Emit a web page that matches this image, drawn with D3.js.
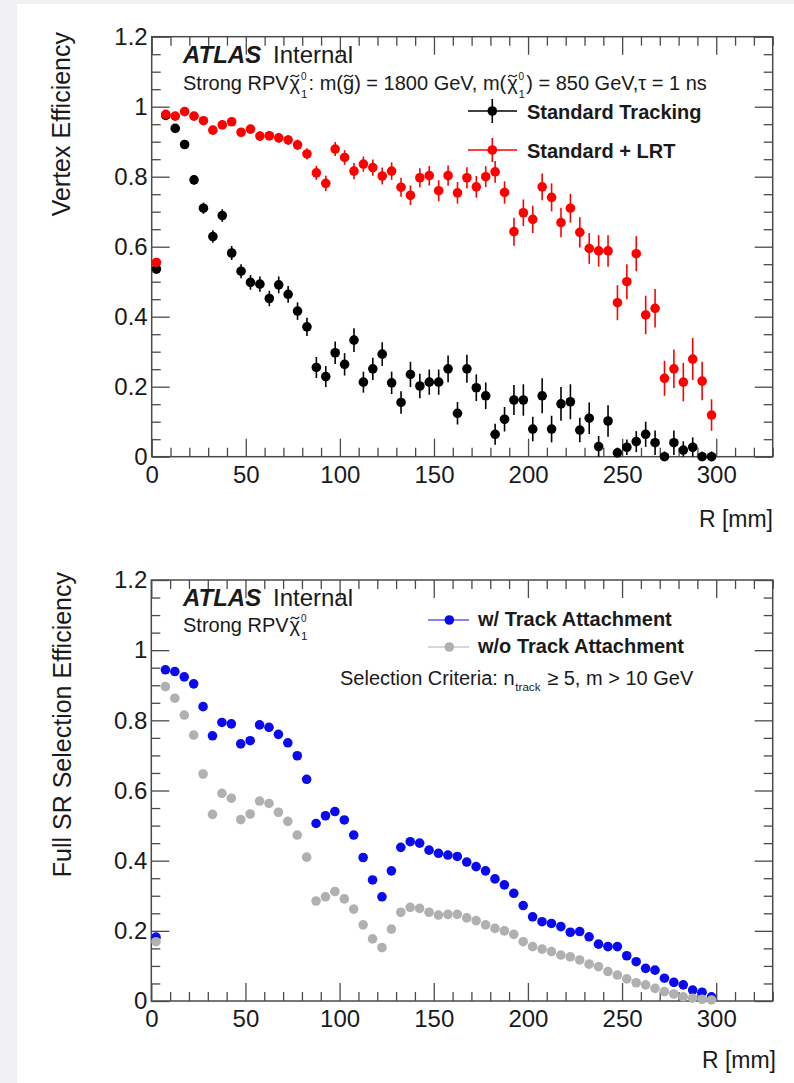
<!DOCTYPE html>
<html><head><meta charset="utf-8">
<script src="https://cdn.jsdelivr.net/npm/d3@7"></script>
<style>
html,body{margin:0;padding:0;background:#f0f0f2;}
svg{display:block;}
text{font-family:"Liberation Sans",Arial,Helvetica,sans-serif;fill:#1a1a1a;}
</style></head><body>
<svg id="c" width="794" height="1083"></svg>
<script>
// ---------------- data ----------------
const binCenters = [2.5,7.5,12.5,17.5,22.5,27.5,32.5,37.5,42.5,47.5,52.5,57.5,62.5,67.5,72.5,77.5,82.5,87.5,92.5,97.5,
  102.5,107.5,112.5,117.5,122.5,127.5,132.5,137.5,142.5,147.5,152.5,157.5,162.5,167.5,172.5,177.5,182.5,187.5,192.5,197.5,
  202.5,207.5,212.5,217.5,222.5,227.5,232.5,237.5,242.5,247.5,252.5,257.5,262.5,267.5,272.5,277.5,282.5,287.5,292.5,297.5];

const stdTracking = [0.536,0.975,0.938,0.892,0.791,0.710,0.629,0.689,0.582,0.530,0.498,0.493,0.452,0.491,0.464,0.416,0.371,0.255,0.229,0.297,
  0.264,0.333,0.213,0.251,0.293,0.211,0.155,0.235,0.202,0.213,0.213,0.251,0.124,0.251,0.197,0.174,0.064,0.107,0.162,0.162,
  0.079,0.174,0.079,0.151,0.157,0.076,0.110,0.029,0.102,0.011,0.027,0.043,0.064,0.040,0.000,0.040,0.019,0.027,0.000,0.000];
const stdTrackingErr = [0.012,0.008,0.010,0.012,0.014,0.016,0.018,0.018,0.020,0.020,0.021,0.022,0.022,0.024,0.024,0.025,0.026,0.030,0.030,0.032,
  0.032,0.034,0.030,0.032,0.034,0.032,0.032,0.036,0.035,0.036,0.036,0.038,0.032,0.040,0.038,0.038,0.030,0.035,0.043,0.045,
  0.035,0.050,0.038,0.048,0.050,0.035,0.045,0.030,0.045,0.015,0.022,0.030,0.036,0.035,0.015,0.035,0.025,0.028,0.015,0.015];

const stdLRT = [0.555,0.978,0.973,0.986,0.973,0.960,0.933,0.948,0.957,0.927,0.936,0.916,0.917,0.911,0.905,0.891,0.865,0.811,0.781,0.879,
  0.855,0.816,0.836,0.826,0.802,0.816,0.770,0.747,0.797,0.803,0.760,0.803,0.754,0.797,0.771,0.800,0.814,0.755,0.643,0.697,
  0.678,0.771,0.741,0.669,0.710,0.641,0.595,0.588,0.588,0.440,0.500,0.580,0.405,0.424,0.224,0.251,0.213,0.279,0.216,0.119];
const stdLRTErr = [0.012,0.008,0.008,0.008,0.009,0.010,0.010,0.010,0.011,0.012,0.012,0.013,0.013,0.014,0.014,0.015,0.016,0.020,0.022,0.020,
  0.021,0.023,0.022,0.023,0.024,0.025,0.027,0.028,0.027,0.028,0.030,0.029,0.031,0.030,0.031,0.030,0.031,0.032,0.040,0.038,
  0.039,0.038,0.040,0.042,0.041,0.043,0.044,0.045,0.045,0.050,0.050,0.050,0.055,0.055,0.050,0.055,0.055,0.060,0.055,0.045];

const withAttach = [0.182,0.944,0.939,0.924,0.904,0.839,0.756,0.794,0.790,0.733,0.742,0.787,0.780,0.760,0.736,0.699,0.632,0.506,0.528,0.540,
  0.516,0.473,0.409,0.345,0.297,0.371,0.438,0.454,0.450,0.430,0.421,0.416,0.412,0.396,0.383,0.371,0.348,0.331,0.307,0.272,
  0.240,0.226,0.221,0.212,0.196,0.198,0.183,0.162,0.155,0.155,0.129,0.112,0.093,0.088,0.065,0.053,0.046,0.031,0.025,0.012];
const withoutAttach = [0.169,0.896,0.863,0.815,0.758,0.647,0.532,0.592,0.578,0.517,0.533,0.570,0.563,0.538,0.512,0.473,0.410,0.285,0.297,0.312,
  0.291,0.262,0.217,0.177,0.152,0.205,0.253,0.267,0.264,0.253,0.245,0.247,0.247,0.237,0.229,0.217,0.207,0.200,0.190,0.169,
  0.155,0.148,0.141,0.131,0.126,0.117,0.105,0.098,0.084,0.074,0.063,0.052,0.046,0.036,0.027,0.020,0.012,0.008,0.005,0.003];

const xTickValues = [0,50,100,150,200,250,300];
const xTickLabels = ["0","50","100","150","200","250","300"];
const yTickValues = [0,0.2,0.4,0.6,0.8,1,1.2];
const yTickLabels = ["0","0.2","0.4","0.6","0.8","1","1.2"];
const xDomain = [0,330];
const yDomain = [0,1.2];

// ---------------- drawing ----------------
const svg = d3.select("#c");
svg.append("rect").attr("x",17).attr("y",4).attr("width",794-17).attr("height",1083-4).attr("fill","#ffffff");

const FRAME = "#4a4a4a";
const xMinor = d3.range(0,331,10).filter(v => v % 50 !== 0);
const yMinor = d3.range(0,1.2001,0.05).map(v=>+v.toFixed(2)).filter(v => Math.abs(v/0.2 - Math.round(v/0.2)) > 1e-6);

function makePanel(box){
  const x = d3.scaleLinear().domain(xDomain).range([box.x0, box.x1]);
  const y = d3.scaleLinear().domain(yDomain).range([box.y1, box.y0]);
  const g = svg.append("g");
  const styleAxis = sel => {
    sel.select(".domain").remove();
    sel.selectAll("line").attr("stroke",FRAME).attr("stroke-width",1.3);
    sel.selectAll("text").style("font-size","24px").attr("fill","#1a1a1a")
      .style("font-family",'"Liberation Sans",Arial,Helvetica,sans-serif');
  };
  g.append("g").attr("transform",`translate(0,${box.y1})`)
    .call(d3.axisBottom(x).tickValues(xTickValues).tickFormat((d,i)=>xTickLabels[i]).tickSize(-18).tickPadding(9)).call(styleAxis);
  g.append("g").attr("transform",`translate(0,${box.y1})`)
    .call(d3.axisBottom(x).tickValues(xMinor).tickFormat("").tickSize(-9)).call(styleAxis);
  g.append("g").attr("transform",`translate(0,${box.y0})`)
    .call(d3.axisTop(x).tickValues(xTickValues).tickFormat("").tickSize(-18)).call(styleAxis);
  g.append("g").attr("transform",`translate(0,${box.y0})`)
    .call(d3.axisTop(x).tickValues(xMinor).tickFormat("").tickSize(-9)).call(styleAxis);
  g.append("g").attr("transform",`translate(${box.x0},0)`)
    .call(d3.axisLeft(y).tickValues(yTickValues).tickFormat((d,i)=>yTickLabels[i]).tickSize(-18).tickPadding(4)).call(styleAxis);
  g.append("g").attr("transform",`translate(${box.x0},0)`)
    .call(d3.axisLeft(y).tickValues(yMinor).tickFormat("").tickSize(-9)).call(styleAxis);
  g.append("g").attr("transform",`translate(${box.x1},0)`)
    .call(d3.axisRight(y).tickValues(yTickValues).tickFormat("").tickSize(-18)).call(styleAxis);
  g.append("g").attr("transform",`translate(${box.x1},0)`)
    .call(d3.axisRight(y).tickValues(yMinor).tickFormat("").tickSize(-9)).call(styleAxis);
  g.append("rect").attr("x",box.x0).attr("y",box.y0).attr("width",box.x1-box.x0).attr("height",box.y1-box.y0)
    .attr("fill","none").attr("stroke",FRAME).attr("stroke-width",1.5);
  return {x,y,g};
}

function series(p, vals, errs, color, r){
  const data = binCenters.map((c,i)=>({c, v:vals[i], e: errs ? errs[i] : 0}));
  const gg = p.g.append("g");
  if (errs){
    gg.selectAll("line.err").data(data).join("line")
      .attr("x1",d=>p.x(d.c)).attr("x2",d=>p.x(d.c))
      .attr("y1",d=>p.y(Math.max(0,d.v-d.e))).attr("y2",d=>p.y(Math.min(1.2,d.v+d.e)))
      .attr("stroke",color).attr("stroke-width",1.6);
  }
  gg.selectAll("circle").data(data).join("circle")
    .attr("cx",d=>p.x(d.c)).attr("cy",d=>p.y(d.v)).attr("r",r).attr("fill",color);
}

function txt(x,y,s,size,opts={}){
  const t = svg.append("text").attr("x",x).attr("y",y).style("font-size",size+"px").text(s);
  if (opts.weight) t.style("font-weight",opts.weight);
  if (opts.style) t.style("font-style",opts.style);
  if (opts.anchor) t.attr("text-anchor",opts.anchor);
  return t;
}

// small tilde accent drawn as a path
function tildePath(cx, cy, w){
  const pts = [[cx-w/2, cy+1.2],[cx-w/4, cy-1.2],[cx, cy],[cx+w/4, cy+1.2],[cx+w/2, cy-1.2]];
  svg.append("path").attr("d", d3.line().curve(d3.curveBasis)(pts))
    .attr("fill","none").attr("stroke","#1a1a1a").attr("stroke-width",1.1);
}

function rich(x, baseline, parts, size){
  let cx = x;
  parts.forEach(p=>{
    if (typeof p === "string"){
      const t = txt(cx, baseline, p, size).style("white-space","pre").attr("xml:space","preserve");
      cx += t.node().getComputedTextLength();
    } else {
      const bx = cx + (p.pre||0);
      const t = txt(bx, baseline, p.base, size);
      const w = t.node().getComputedTextLength();
      if (p.tilde) tildePath(bx + w/2, baseline - size*0.7, w*0.85);
      let extra = 0;
      if (p.sup){ const s = txt(bx+w+0.8, baseline - size*0.52, p.sup, size*0.5); extra = Math.max(extra, s.node().getComputedTextLength()); }
      if (p.sub){ const s = txt(bx+w+0.8, baseline + size*(p.subDrop||0.38), p.sub, size*0.58); extra = Math.max(extra, s.node().getComputedTextLength()); }
      cx = bx + w + (extra ? extra + 2 : 0);
    }
  });
  return cx;
}

// ---------- Top panel ----------
const topP = makePanel({x0:151.7, x1:772.7, y0:36.7, y1:456.7});
series(topP, stdTracking, stdTrackingErr, "#000000", 4.8);
series(topP, stdLRT, stdLRTErr, "#ff0000", 4.8);

txt(183, 63, "ATLAS", 24, {weight:"bold", style:"italic"});
txt(273, 63, "Internal", 24);
const chi = {base:"χ", tilde:true, sup:"0", sub:"1", pre:1};
rich(183, 90, ["Strong RPV", chi, ": m(", {base:"g", tilde:true}, ") = 1800 GeV, m(", chi, ") = 850 GeV,", "τ = 1 ns"], 20);

const legTop = [
  {label:"Standard Tracking", color:"#000000", y:111},
  {label:"Standard + LRT", color:"#ff0000", y:150}
];
legTop.forEach(l=>{
  svg.append("line").attr("x1",468).attr("x2",517).attr("y1",l.y).attr("y2",l.y).attr("stroke",l.color).attr("stroke-width",1.4);
  svg.append("line").attr("x1",492.3).attr("x2",492.3).attr("y1",l.y-12).attr("y2",l.y+12).attr("stroke",l.color).attr("stroke-width",1.6);
  svg.append("circle").attr("cx",492.3).attr("cy",l.y).attr("r",4.8).attr("fill",l.color);
  txt(527, l.y+8, l.label, 20, {weight:"bold"});
});

txt(773, 526.7, "R [mm]", 23, {anchor:"end"});
svg.append("text").attr("transform","translate(70,32) rotate(-90)").attr("text-anchor","end")
  .style("font-size","25px").text("Vertex Efficiency");

// ---------- Bottom panel ----------
const botP = makePanel({x0:151.3, x1:772.7, y0:580, y1:1001});
series(botP, withAttach, null, "#0a0af0", 4.8);
series(botP, withoutAttach, null, "#b0b0b0", 4.8);

txt(183, 605.5, "ATLAS", 24, {weight:"bold", style:"italic"});
txt(273, 605.5, "Internal", 24);
rich(183, 632, ["Strong RPV", chi], 20);

const legBot = [
  {label:"w/ Track Attachment", color:"#0a0af0", y:620},
  {label:"w/o Track Attachment", color:"#b0b0b0", y:647}
];
legBot.forEach(l=>{
  svg.append("line").attr("x1",428).attr("x2",469).attr("y1",l.y).attr("y2",l.y).attr("stroke",l.color).attr("stroke-width",1.2);
  svg.append("circle").attr("cx",449.3).attr("cy",l.y).attr("r",4.8).attr("fill",l.color);
  txt(478, l.y+5.5, l.label, 20, {weight:"bold"});
});
rich(340, 685, ["Selection Criteria: ", {base:"n", sub:"track", subDrop:0.3}, " ≥ 5, m > 10 GeV"], 20);

txt(776, 1068, "R [mm]", 23, {anchor:"end"});
svg.append("text").attr("transform","translate(70.5,572) rotate(-90)").attr("text-anchor","end")
  .style("font-size","25px").text("Full SR Selection Efficiency");
</script>
</body></html>
